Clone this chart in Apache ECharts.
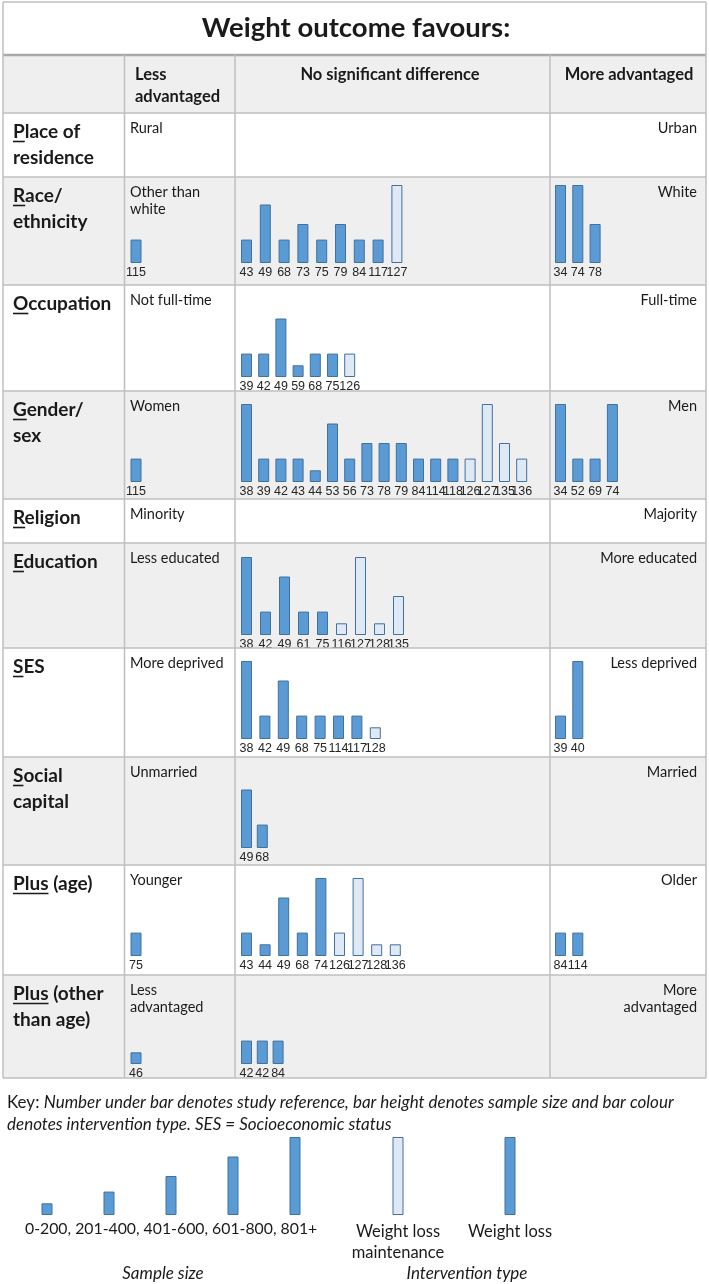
<!DOCTYPE html>
<html><head><meta charset="utf-8">
<script src="https://cdn.jsdelivr.net/npm/echarts@6/dist/echarts.min.js"></script>
<style>html,body{margin:0;padding:0;background:#fff}#c{width:709px;height:1284px}</style>
</head><body><div id="c"></div>
<script>
// ---------------- DATA ----------------
const titleText = 'Weight outcome favours:';
const colHeaders = [['Less', 'advantaged'], ['No significant difference'], ['More advantaged']];
const rowLabels = [['Place of','residence'],['Race/','ethnicity'],['Occupation'],['Gender/','sex'],['Religion'],['Education'],['SES'],['Social','capital'],['Plus (age)'],['Plus (other','than age)']];
const underlineChars = [1,1,1,1,1,1,1,1,4,4];
const lessLabels = [['Rural'],['Other than','white'],['Not full-time'],['Women'],['Minority'],['Less educated'],['More deprived'],['Unmarried'],['Younger'],['Less','advantaged']];
const moreLabels = [['Urban'],['White'],['Full-time'],['Men'],['Majority'],['More educated'],['Less deprived'],['Married'],['Older'],['More','advantaged']];

// sample sizes (representative of size band), L = weight loss, M = weight loss maintenance
const raceLessRefs = ['115'], raceLessN = [300], raceLessType = ['L'];
const raceNsdRefs = ['43','49','68','73','75','79','84','117','127'];
const raceNsdN = [300,750,300,500,300,500,300,300,1000];
const raceNsdType = ['L','L','L','L','L','L','L','L','M'];
const raceMoreRefs = ['34','74','78'], raceMoreN = [1000,1000,500], raceMoreType = ['L','L','L'];

const occNsdRefs = ['39','42','49','59','68','75','126'];
const occNsdN = [300,300,750,150,300,300,300];
const occNsdType = ['L','L','L','L','L','L','M'];

const genLessRefs = ['115'], genLessN = [300], genLessType = ['L'];
const genNsdRefs = ['38','39','42','43','44','53','56','73','78','79','84','114','118','126','127','135','136'];
const genNsdN = [1000,300,300,300,150,750,300,500,500,500,300,300,300,300,1000,500,300];
const genNsdType = ['L','L','L','L','L','L','L','L','L','L','L','L','L','M','M','M','M'];
const genMoreRefs = ['34','52','69','74'], genMoreN = [1000,300,300,1000], genMoreType = ['L','L','L','L'];

const eduNsdRefs = ['38','42','49','61','75','116','127','128','135'];
const eduNsdN = [1000,300,750,300,300,150,1000,150,500];
const eduNsdType = ['L','L','L','L','L','M','M','M','M'];

const sesNsdRefs = ['38','42','49','68','75','114','117','128'];
const sesNsdN = [1000,300,750,300,300,300,300,150];
const sesNsdType = ['L','L','L','L','L','L','L','M'];
const sesMoreRefs = ['39','40'], sesMoreN = [300,1000], sesMoreType = ['L','L'];

const socNsdRefs = ['49','68'], socNsdN = [750,300], socNsdType = ['L','L'];

const ageLessRefs = ['75'], ageLessN = [300], ageLessType = ['L'];
const ageNsdRefs = ['43','44','49','68','74','126','127','128','136'];
const ageNsdN = [300,150,750,300,1000,300,1000,150,150];
const ageNsdType = ['L','L','L','L','L','M','M','M','M'];
const ageMoreRefs = ['84','114'], ageMoreN = [300,300], ageMoreType = ['L','L'];

const othLessRefs = ['46'], othLessN = [150], othLessType = ['L'];
const othNsdRefs = ['42','42','84'], othNsdN = [300,300,300], othNsdType = ['L','L','L'];

const keyLine1 = 'Number under bar denotes study reference, bar height denotes sample size and bar colour';
const keyLine2 = 'denotes intervention type. SES = Socioeconomic status';
const sizeLegendLabels = ['0-200','201-400','401-600','601-800','801+'];
const sizeLegendN = [150,300,500,750,1000];
const typeLegendLabels = ['Weight loss\nmaintenance','Weight loss'];
const typeLegendN = [1000,1000];
const typeLegendType = ['M','L'];
const sizeCaption = 'Sample size', typeCaption = 'Intervention type';

// ---------------- LAYOUT ----------------
const FONT = 'Lato, "Open Sans", sans-serif';
const NUMFONT = '"Liberation Sans Narrow", "Liberation Sans", sans-serif';
const W_FILL = '#5b9bd5', M_FILL = '#dfe9f6', EDGE = '#41719c';
const GRAY = '#efefef', LINE = '#bfbfbf', TXT = '#1a1a1a';
const rowTop = [113,177,285,391,499,543,648,757,865,975,1078];
const baseY = [0,263,377,482,0,635,739,848,956,1064];
const nsdPitch = [0,18.8,17.2,17.2,0,19,18.4,15.8,18.6,15.8];
const grayRow = [false,true,false,true,false,true,false,true,false,true];
const colBarLeft = {less:130.5, nsd:241, more:555};
const colPitch = {less:17, more:17.3};
const BAR_H = 78, BAR_W = 11;

const cells = [
  {row:1,col:'less',refs:raceLessRefs,n:raceLessN,t:raceLessType},
  {row:1,col:'nsd',refs:raceNsdRefs,n:raceNsdN,t:raceNsdType},
  {row:1,col:'more',refs:raceMoreRefs,n:raceMoreN,t:raceMoreType},
  {row:2,col:'nsd',refs:occNsdRefs,n:occNsdN,t:occNsdType},
  {row:3,col:'less',refs:genLessRefs,n:genLessN,t:genLessType},
  {row:3,col:'nsd',refs:genNsdRefs,n:genNsdN,t:genNsdType},
  {row:3,col:'more',refs:genMoreRefs,n:genMoreN,t:genMoreType},
  {row:5,col:'nsd',refs:eduNsdRefs,n:eduNsdN,t:eduNsdType},
  {row:6,col:'nsd',refs:sesNsdRefs,n:sesNsdN,t:sesNsdType},
  {row:6,col:'more',refs:sesMoreRefs,n:sesMoreN,t:sesMoreType},
  {row:7,col:'nsd',refs:socNsdRefs,n:socNsdN,t:socNsdType},
  {row:8,col:'less',refs:ageLessRefs,n:ageLessN,t:ageLessType},
  {row:8,col:'nsd',refs:ageNsdRefs,n:ageNsdN,t:ageNsdType},
  {row:8,col:'more',refs:ageMoreRefs,n:ageMoreN,t:ageMoreType},
  {row:9,col:'less',refs:othLessRefs,n:othLessN,t:othLessType},
  {row:9,col:'nsd',refs:othNsdRefs,n:othNsdN,t:othNsdType}
];

const grids = [], xAxes = [], yAxes = [], series = [];
function addBarGrid(left, width, baseline, refs, n, t, label) {
  const i = grids.length;
  grids.push({left: left, top: baseline - BAR_H, width: width, height: BAR_H, containLabel: false});
  xAxes.push({type: 'category', gridIndex: i, data: refs.map((_, k) => String(k)),
    axisLine: {show: false}, axisTick: {show: false}, splitLine: {show: false},
    axisLabel: Object.assign({interval: 0, hideOverlap: false, formatter: (v, k) => refs[k]}, label)});
  yAxes.push({type: 'value', gridIndex: i, min: 0, max: 1000, show: false});
  series.push({type: 'bar', xAxisIndex: i, yAxisIndex: i, barWidth: BAR_W, silent: true,
    data: n.map((v, k) => ({value: v, itemStyle: {color: t[k] === 'M' ? M_FILL : W_FILL, borderColor: EDGE, borderWidth: 1}}))});
}
const cellLabel = {margin: 3, fontSize: 12.5, fontFamily: NUMFONT, color: '#262626'};
cells.forEach(c => {
  const p = c.col === 'nsd' ? nsdPitch[c.row] : colPitch[c.col];
  addBarGrid(colBarLeft[c.col] - (p - BAR_W) / 2, c.refs.length * p, baseY[c.row], c.refs, c.n, c.t, cellLabel);
});
// legend grids
addBarGrid(16, 310, 1215, sizeLegendLabels, sizeLegendN, sizeLegendN.map(() => 'L'), {show: false});
addBarGrid(342, 224, 1215, typeLegendLabels, typeLegendN, typeLegendType,
  {margin: 6, fontSize: 16.5, lineHeight: 21, fontFamily: FONT, color: TXT});

// ---------------- GRAPHIC (table) ----------------
const g = [];
function txt(text, x, y, font, align, fill, extra) {
  g.push({type: 'text', z: 5, silent: true, style: Object.assign({text: text, x: x, y: y, font: font, fill: fill || TXT,
    align: align || 'left', verticalAlign: 'middle', textAlign: align || 'left', textVerticalAlign: 'middle'}, extra || {})});
}
function line(x1, y1, x2, y2, w, col) {
  g.push({type: 'line', z: 3, silent: true, shape: {x1: x1, y1: y1, x2: x2, y2: y2}, style: {stroke: col || LINE, lineWidth: w || 1.5}});
}
function rect(x, y, w, h, fill) {
  g.push({type: 'rect', z: 0, silent: true, shape: {x: x, y: y, width: w, height: h}, style: {fill: fill}});
}
const L = 3, R = 706;
rect(L, 55, R - L, 58, GRAY);
for (let r = 0; r < 10; r++) if (grayRow[r]) rect(L, rowTop[r], R - L, rowTop[r + 1] - rowTop[r], GRAY);
line(L, 2, R, 2, 1.5);
line(L, 55, R, 55, 2.5, '#a9a9a9');
line(L, 113, R, 113, 1.5);
for (let r = 1; r <= 10; r++) line(L, rowTop[r], R, rowTop[r], 1.5);
line(L, 2, L, 1078, 1.5); line(R, 2, R, 1078, 1.5);
[124.5, 235, 550].forEach(x => line(x, 55, x, 1078, 1.5));

txt(titleText, 356, 28, 'bold 27.5px ' + FONT, 'center');
const HDR = 'bold 16.5px ' + FONT;
txt(colHeaders[0][0], 135, 75, HDR);
txt(colHeaders[0][1], 135, 97, HDR);
txt(colHeaders[1][0], 390, 75, HDR, 'center');
txt(colHeaders[2][0], 629, 75, HDR, 'center');

const mctx = document.createElement('canvas').getContext('2d');
const LBLFONT = 'bold 19px ' + FONT;
mctx.font = '700 19px Lato, "Open Sans", sans-serif';
rowLabels.forEach((lines, r) => {
  const y0 = rowTop[r] + 19;
  lines.forEach((s, k) => txt(s, 13, y0 + k * 26, LBLFONT));
  const w = mctx.measureText(lines[0].slice(0, underlineChars[r])).width;
  line(13, y0 + 9.5, 13 + w, y0 + 9.5, 1.6, TXT);
});
const CELLFONT = '14.5px ' + FONT;
lessLabels.forEach((lines, r) => lines.forEach((s, k) => txt(s, 130, rowTop[r] + 15 + k * 17, CELLFONT)));
moreLabels.forEach((lines, r) => lines.forEach((s, k) => txt(s, 697, rowTop[r] + 15 + k * 17, CELLFONT, 'right')));

// key
g.push({type: 'text', z: 5, silent: true, style: {x: 7, y: 1103, verticalAlign: 'middle', textVerticalAlign: 'middle',
  text: '{n|Key: }{i|' + keyLine1 + '}',
  rich: {n: {font: '17px ' + FONT, fill: TXT}, i: {font: 'italic 17px ' + FONT, fill: TXT}}}});
txt(keyLine2, 7, 1125, 'italic 17px ' + FONT);
txt(sizeLegendLabels.join(', '), 25, 1229, '15.8px ' + FONT);
txt(sizeCaption, 163, 1274, 'italic 17px ' + FONT, 'center');
txt(typeCaption, 467, 1274, 'italic 17px ' + FONT, 'center');

const chart = echarts.init(document.getElementById('c'), null, {renderer: 'canvas', width: 709, height: 1284});
chart.setOption({
  animation: false,
  backgroundColor: '#ffffff',
  grid: grids, xAxis: xAxes, yAxis: yAxes, series: series,
  graphic: {elements: g}
});
</script></body></html>
